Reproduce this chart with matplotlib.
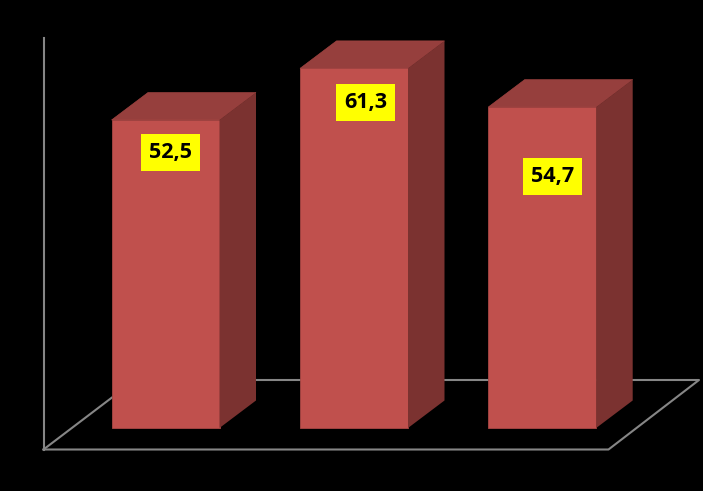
import matplotlib
matplotlib.use("Agg")
import matplotlib.pyplot as plt
from matplotlib.patches import Polygon, Rectangle

categories = ["A", "B", "C"]
values = [52.5, 61.3, 54.7]
labels = ["52,5", "61,3", "54,7"]

# yellow box centres in px, they are placed by hand in the original
label_x = [170.5, 365.5, 552.5]
label_y = [152.5, 102.5, 176.5]

FRONT = "#c0504d"
TOP = "#963f3d"
SIDE = "#7b3230"
EDGE = "#a84744"
GRID = "#868686"

W, H = 703, 491
fig = plt.figure(figsize=(W / 100, H / 100), dpi=100, facecolor="black")
y0_px = 428.0
px_per_unit = (428 - 120) / 52.5
ax = fig.add_axes([0, 0, 1, 1])
ax.set_xlim(0, W)
ax.set_ylim((y0_px - H) / px_per_unit, y0_px / px_per_unit)
ax.axis("off")

bar_w = 108
dx, dy = 36.5, 27.5 / px_per_unit
lefts = [111.5, 300, 488.2]


def py(p):
    return (y0_px - p) / px_per_unit


# walls and floor
ax.plot([43.5, 43.5], [py(38), py(449.5)], color=GRID, lw=1.5)
ax.plot([43.5, 608.5, 699, 219], [py(449.5), py(449.5), py(380), py(380)], color=GRID, lw=1.5)
ax.plot([43.5, 112], [py(449.5), py(397.5)], color=GRID, lw=1.5)

for i in range(len(values)):
    x = lefts[i]
    v = values[i]
    ax.add_patch(Rectangle((x, 0), bar_w, v, fc=FRONT, ec=EDGE, lw=0.6, zorder=3))
    ax.add_patch(Polygon([(x, v), (x + bar_w, v), (x + bar_w + dx, v + dy), (x + dx, v + dy)],
                         fc=TOP, ec=EDGE, lw=0.4, zorder=3))
    ax.add_patch(Polygon([(x + bar_w, 0), (x + bar_w + dx, dy), (x + bar_w + dx, v + dy), (x + bar_w, v)],
                         fc=SIDE, ec="none", zorder=3))
    ax.text(label_x[i], py(label_y[i]), labels[i], ha="center", va="center",
            fontsize=15.5, fontweight="bold", family=["Open Sans", "DejaVu Sans"], color="black", zorder=4,
            bbox=dict(fc="#ffff00", ec="none", pad=5.6))

fig.savefig("out.png", dpi=100, facecolor="black")
